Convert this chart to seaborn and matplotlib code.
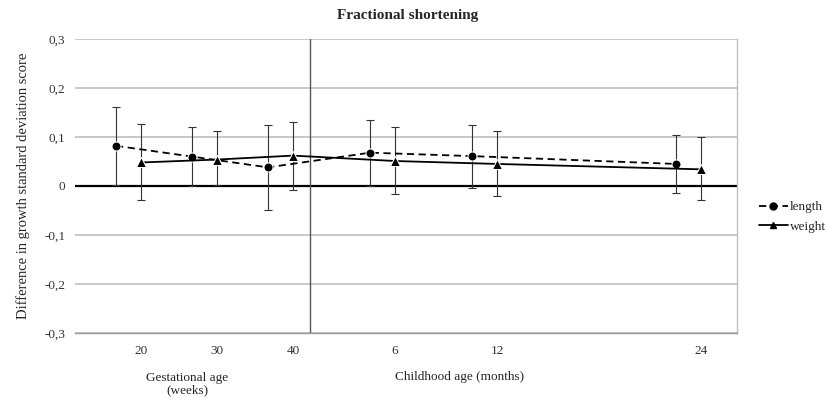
import numpy as np
import pandas as pd
import matplotlib
matplotlib.use("Agg")
import matplotlib.pyplot as plt
from matplotlib.lines import Line2D
import seaborn as sns

# Time points: gestation (weeks) followed by childhood (months)
gest_weeks = [20, 30, 40]
child_months = [6, 12, 24]
tick_labels = ["20", "30", "40", "6", "12", "24"]

# Difference in growth SD score with 95% CI
length_mean = [0.082, 0.060, 0.038, 0.068, 0.061, 0.045]
length_lo = [0.003, 0.000, -0.049, 0.000, -0.005, -0.014]
length_hi = [0.162, 0.121, 0.125, 0.135, 0.125, 0.104]

weight_mean = [0.048, 0.054, 0.062, 0.051, 0.045, 0.034]
weight_lo = [-0.029, 0.002, -0.009, -0.016, -0.020, -0.029]
weight_hi = [0.127, 0.113, 0.131, 0.120, 0.113, 0.099]

y_ticks = [-0.3, -0.2, -0.1, 0.0, 0.1, 0.2, 0.3]
y_tick_labels = ["-0,3", "-0,2", "-0,1", "0", "0,1", "0,2", "0,3"]

# Shared timeline: weeks for gestation, months stretched after birth (40 weeks)
MONTH_SCALE = 17 / 7.6
BIRTH = 40
DODGE = 3.3
timeline = np.array(gest_weeks + [BIRTH + m * MONTH_SCALE for m in child_months], dtype=float)

df = pd.DataFrame({
    "x": np.concatenate([timeline - DODGE, timeline]),
    "value": length_mean + weight_mean,
    "lo": length_lo + weight_lo,
    "hi": length_hi + weight_hi,
    "series": ["length"] * 6 + ["weight"] * 6,
})

sns.set_theme(style="white")
plt.rcParams["font.family"] = ["Liberation Serif", "DejaVu Serif"]

fig = plt.figure(figsize=(8.27, 4.01), dpi=100)
ax = fig.add_axes([75 / 827, 1 - 333 / 401, (737 - 75) / 827, (333 - 39) / 401])

# horizontal gridlines and zero reference
for yv in y_ticks:
    if yv == 0:
        continue
    ax.axhline(yv, color="#c8c8c8", lw=1.4, zorder=0)
ax.axhline(0, color="black", lw=1.6, zorder=1)
ax.axvline(42.2, color="#555555", lw=1.0, zorder=1)

for name, sub in df.groupby("series"):
    ax.errorbar(sub["x"], sub["value"],
                yerr=[sub["value"] - sub["lo"], sub["hi"] - sub["value"]],
                fmt="none", ecolor="#333333", elinewidth=0.8, capsize=3, capthick=0.8, zorder=2)

sns.lineplot(data=df, x="x", y="value", style="series",
             markers={"length": "o", "weight": "^"},
             dashes={"length": (4, 2.5), "weight": ""},
             color="black", linewidth=1.3, markersize=6.5, ax=ax, zorder=3,
             legend=False)

ax.set_xlim(11.3, 98.4)
ax.set_ylim(-0.3, 0.3)
ax.set_xticks(timeline)
ax.set_xticklabels(tick_labels, fontsize=9.5, color="#333333")
ax.set_yticks(y_ticks)
ax.set_yticklabels(y_tick_labels, fontsize=9.5, color="#333333")
ax.tick_params(axis="x", length=0, pad=9)
ax.tick_params(axis="y", length=0, pad=7)
ax.set_xlabel("")
ax.set_ylabel("Difference in growth standard deviation score", fontsize=10.5, labelpad=10)

for side in ["left", "top"]:
    ax.spines[side].set_visible(False)
ax.spines["right"].set_color("#bdbdbd")
ax.spines["bottom"].set_color("#9a9a9a")
ax.spines["right"].set_linewidth(1.0)
ax.spines["bottom"].set_linewidth(1.0)

fig.text(408 / 827, 1 - 15 / 401, "Fractional shortening", ha="center", va="center",
         fontsize=11, fontweight="bold")
fig.text(187 / 827, 1 - 384 / 401, "Gestational age\n(weeks)", ha="center", va="center",
         fontsize=9.5, linespacing=1.05)
fig.text(460 / 827, 1 - 377 / 401, "Childhood age (months)", ha="center", va="center",
         fontsize=9.5)

handles = [
    Line2D([], [], color="black", lw=1.3, ls=(0, (4, 2.5)), marker="o", markersize=5),
    Line2D([], [], color="black", lw=1.3, marker="^", markersize=5),
]
fig.legend(handles, ["length", "weight"], loc="center left",
           bbox_to_anchor=(752 / 827, 1 - 217 / 401), frameon=False, fontsize=9.5,
           handlelength=2.2, handletextpad=0.2, labelspacing=0.55, borderpad=0)

fig.savefig("out.png", dpi=100, facecolor="white")
